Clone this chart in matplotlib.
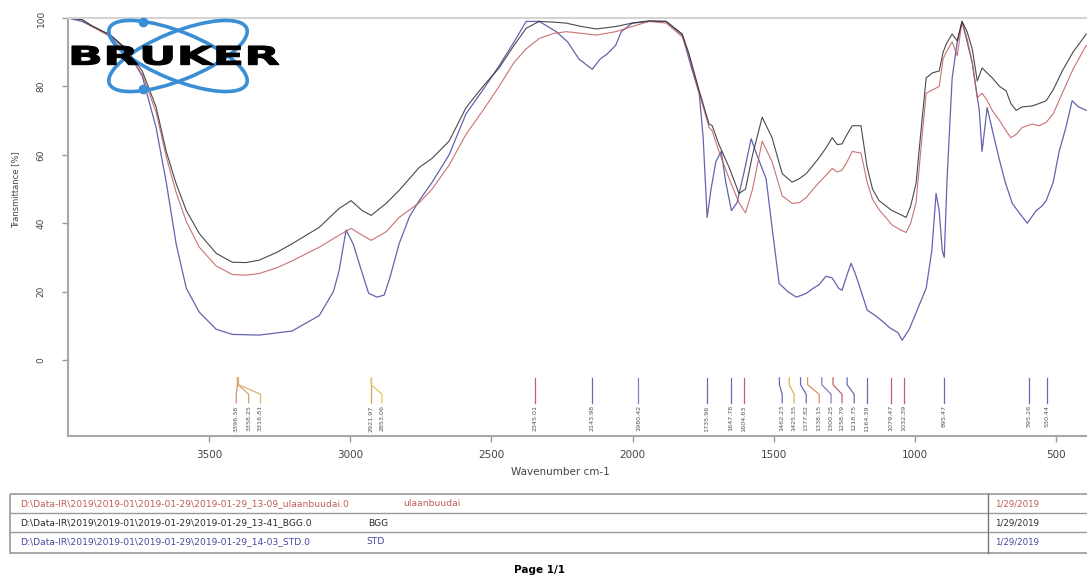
import matplotlib as mpl
mpl.use('Agg')
import matplotlib.pyplot as plt
from matplotlib.patches import Ellipse, Rectangle, PathPatch
from matplotlib.textpath import TextPath
from matplotlib.font_manager import FontProperties
from matplotlib.transforms import Affine2D

# ---- spectra (wavenumber cm-1, transmittance %) ----
bgg_wn = [4000, 3950, 3914, 3850, 3794, 3737, 3688, 3652, 3617, 3581, 3535, 3475, 3418, 3370, 3323, 3260, 3206,
          3110, 3040, 2997, 2958, 2926, 2873, 2827, 2756, 2710, 2650, 2590, 2530, 2473, 2420, 2377, 2331, 2280,
          2235, 2180, 2129, 2060, 2002, 1941, 1881, 1824, 1800, 1764, 1729, 1718, 1694, 1658, 1623, 1600, 1575,
          1541, 1506, 1470, 1435, 1410, 1385, 1360, 1339, 1315, 1293, 1275, 1258, 1240, 1222, 1191, 1169, 1150,
          1127, 1081, 1050, 1031, 1015, 996, 975, 960, 937, 914, 900, 889, 868, 850, 833, 815, 797, 779, 762,
          745, 726, 700, 677, 660, 641, 620, 584, 560, 535, 510, 478, 440, 393]
bgg_t = [100, 99.5, 97.7, 95, 91, 84.5, 74, 61, 51.6, 43.7, 37, 31.2, 28.6, 28.5, 29.2, 31.5, 34,
         38.8, 44.3, 46.6, 43.7, 42.3, 45.8, 49.6, 56.3, 59, 64, 73.8, 80, 85.4, 92, 97, 99, 98.8,
         98.5, 97.5, 96.8, 97.5, 98.5, 99.2, 99, 95.3, 89.5, 78.7, 69, 68.5, 63, 56.3, 48.7, 50, 60,
         71, 65, 54.5, 52, 53, 54.5, 57, 59.2, 62, 65, 63, 63.2, 66, 68.5, 68.5, 56.3, 50,
         46.6, 43.7, 42.5, 41.7, 45, 51.6, 70, 82.5, 84, 84.5, 90, 92.4, 95.3, 93.3, 99, 96, 91, 81.6, 85.4,
         84, 82.5, 80, 78.7, 75, 73, 74, 74.3, 75, 75.8, 79, 84.5, 90, 95.3]

ulaan_wn = bgg_wn
ulaan_t = [100, 99.5, 97.5, 94.5, 90.5, 83.5, 72.5, 59.5, 49, 40.5, 33, 27.5, 25, 24.8, 25.3, 27, 29,
           33, 36.5, 38.5, 36.5, 35, 37.5, 41.7, 46, 50, 57, 66, 73, 80, 87, 91, 94, 95.5,
           96, 95.5, 95, 96, 97.5, 99, 98.5, 94.5, 89, 78, 68, 67, 61, 53, 46, 43, 50,
           64, 58, 48, 45.8, 46, 47.5, 50, 52, 54, 56, 55, 55.5, 58, 61, 60.5, 52, 47,
           44, 39.5, 38, 37.3, 40, 46, 65, 78, 79, 80, 88, 90, 93, 89, 99, 94, 87, 76.7, 78,
           76, 73, 70, 67, 65, 66, 68, 69, 68.5, 69.5, 72, 78, 85, 92]

std_wn = [4000, 3950, 3914, 3850, 3794, 3737, 3688, 3652, 3617, 3581, 3535, 3475, 3418, 3323, 3206, 3110,
          3060, 3040, 3015, 2990, 2960, 2935, 2905, 2880, 2860, 2827, 2790, 2756, 2710, 2650, 2590, 2530,
          2473, 2420, 2377, 2331, 2300, 2270, 2230, 2190, 2143, 2115, 2090, 2060, 2040, 2002, 1941, 1881,
          1824, 1790, 1764, 1750, 1736, 1722, 1705, 1686, 1670, 1650, 1630, 1605, 1580, 1560, 1527, 1506,
          1481, 1450, 1420, 1400, 1385, 1360, 1340, 1315, 1293, 1270, 1258, 1240, 1226, 1210, 1190, 1169,
          1140, 1110, 1090, 1060, 1045, 1020, 990, 960, 940, 925, 914, 903, 896, 886, 868, 850, 833, 815,
          797, 772, 762, 744, 725, 702, 680, 655, 630, 602, 585, 570, 550, 535, 510, 489, 465, 443, 420, 393]
std_t = [100, 99, 97.5, 95, 91, 83, 68, 52, 34, 21, 14, 9, 7.5, 7.3, 8.5, 13,
         20, 26, 38, 34, 26, 19.5, 18.4, 19, 24, 34, 42, 46.6, 52, 60, 72, 79,
         86, 93, 99, 99, 97.5, 96, 93, 88, 85, 88, 89.5, 92, 96, 98.5, 99, 99,
         95, 85, 78, 65, 41.7, 50, 58, 61, 52, 43.7, 46, 55, 64.7, 60, 53, 38.8,
         22.4, 20, 18.4, 19, 19.5, 21, 22, 24.5, 24, 21, 20.4, 25, 28.3, 25, 20, 14.6,
         13, 11, 9.5, 8, 5.8, 9, 15, 21, 32, 48.7, 43.7, 32, 30, 53, 82.5, 93, 99, 93,
         87, 73, 61, 73.8, 67, 59, 52, 45.8, 43, 40, 42, 43.7, 45, 46.6, 52, 61, 68, 75.8, 74, 73]

# ---- peak picks: line origin, label position, text, colour ----
peak_top = [3400, 3398, 3396, 2926, 2926, 2345, 2143, 1980, 1736, 1651, 1605,
            1480, 1445, 1405, 1380, 1330, 1290, 1240, 1169, 1084, 1038, 896, 595, 531]
peak_lab = [3404, 3360, 3318, 2926, 2888, 2345, 2143, 1980, 1736, 1651, 1605,
            1470, 1428, 1385, 1339, 1297, 1258, 1215, 1169, 1084, 1038, 896, 595, 531]
peak_txt = ['3396.36', '3358.25', '3316.81', '2921.97', '2853.06', '2345.01', '2143.98', '1980.42',
            '1735.96', '1647.78', '1604.63', '1462.23', '1425.35', '1377.82', '1338.15', '1300.25',
            '1258.79', '1218.75', '1164.39', '1079.47', '1032.39', '895.47', '595.26', '530.44']
peak_col = ['#d98c6c', '#d9a070', '#e0b070', '#e0a050', '#e8c060', '#c06070', '#6a6ab0', '#8080c0',
            '#6a6ab0', '#6a6ab0', '#c06070', '#6a6ab0', '#e0b050', '#6a6ab0', '#e09060', '#8080c0',
            '#c06070', '#6a6ab0', '#6a6ab0', '#c06070', '#c06070', '#6a6ab0', '#6a6ab0', '#6a6ab0']

files = ['D:\\Data-IR\\2019\\2019-01\\2019-01-29\\2019-01-29_13-09_ulaanbuudai.0',
         'D:\\Data-IR\\2019\\2019-01\\2019-01-29\\2019-01-29_13-41_BGG.0',
         'D:\\Data-IR\\2019\\2019-01\\2019-01-29\\2019-01-29_14-03_STD.0']
names = ['ulaanbuudai', 'BGG', 'STD']
dates = ['1/29/2019', '1/29/2019', '1/29/2019']
colors = ['#c05a5a', '#2a2a2a', '#4848a0']

W, H = 1087, 576
fig = plt.figure(figsize=(W / 100, H / 100), dpi=100)
ax = fig.add_axes([68 / W, 1 - 436 / H, (1095 - 68) / W, (436 - 18) / H])

ax.plot(std_wn, std_t, color=colors[2], lw=0.9, alpha=0.85)
ax.plot(ulaan_wn, ulaan_t, color=colors[0], lw=0.8, alpha=0.85)
ax.plot(bgg_wn, bgg_t, color=colors[1], lw=0.8, alpha=0.85)

# peak marks below the spectra
for top, lab, txt, c in zip(peak_top, peak_lab, peak_txt, peak_col):
    ax.plot([top, top, lab, lab], [-5.2, -7.2, -10, -12.5], color=c, lw=0.9)
    ax.text(lab, -13.2, txt, rotation=90, ha='center', va='top', fontsize=4.6, color='#555')

ax.set_xlim(4000, 362)
ax.set_ylim(-22.2, 100)
ax.set_xticks([3500, 3000, 2500, 2000, 1500, 1000, 500])
ax.set_yticks([0, 20, 40, 60, 80, 100])
ax.set_yticklabels(['0', '20', '40', '60', '80', '100'], rotation=90, va='center')
ax.tick_params(axis='both', colors='#999', labelcolor='#444', length=4, width=1)
ax.tick_params(axis='x', labelsize=7.5, pad=6)
ax.tick_params(axis='y', labelsize=6.5, pad=12)
for s in ['left', 'bottom']:
    ax.spines[s].set_color('#a8a8a8')
    ax.spines[s].set_linewidth(1.5)
ax.spines['top'].set_color('#d4d4d4')
ax.spines['top'].set_linewidth(1.5)
ax.spines['right'].set_visible(False)
ax.set_ylabel('Transmittance [%]', fontsize=6, color='#444')
ax.yaxis.set_label_coords(-0.047, 0.59)
ax.set_xlabel('Wavenumber cm-1', fontsize=7.5, color='#444')
ax.xaxis.set_label_coords(0.479, -0.074)

# overlay in pixel units for logo and file table
ov = fig.add_axes([0, 0, 1, 1], zorder=5)
ov.set_xlim(0, W)
ov.set_ylim(H, 0)
ov.axis('off')
ov.patch.set_visible(False)

logo_blue = '#3a8ed6'
ov.add_patch(Ellipse((178, 56), 148, 48, angle=22, fill=False, ec=logo_blue, lw=2.6))
ov.add_patch(Ellipse((178, 56), 148, 48, angle=-22, fill=False, ec=logo_blue, lw=2.6))
ov.plot([143, 143], [22, 89], 'o', color=logo_blue, ms=6, ls='none')

# wide heavy wordmark: stretch a text path into the logo box
tp = TextPath((0, 0), 'BRUKER', size=10, prop=FontProperties(family='DejaVu Sans', weight='bold'))
ext = tp.get_extents()
sx = (279 - 72) / ext.width
sy = (65 - 46) / ext.height
tr = Affine2D().translate(-ext.x0, -ext.y0).scale(sx, -sy).translate(72, 65) + ov.transData
ov.add_patch(PathPatch(tp, transform=tr, fc='black', ec='black', lw=0.8))

ov.add_patch(Rectangle((10, 494), 1100, 59, fill=False, ec='#9a9a9a', lw=1.2))
ov.plot([10, 1100], [513, 513], color='#9a9a9a', lw=1.0)
ov.plot([10, 1100], [532, 532], color='#9a9a9a', lw=1.0)
ov.plot([988, 988], [494, 553], color='#777', lw=1.0)
name_x = [403, 368, 366]
for i in range(3):
    yc = 504 + 19 * i
    ov.text(20, yc, files[i], fontsize=6.6, color=colors[i], va='center')
    ov.text(name_x[i], yc, names[i], fontsize=6.6, color=colors[i], va='center')
    ov.text(995, yc, dates[i], fontsize=6.2, color=colors[i], va='center')
ov.text(540, 570, 'Page 1/1', fontsize=7.5, fontweight='bold', ha='center', va='center')

fig.savefig('out.png', dpi=100)
plt.close()
